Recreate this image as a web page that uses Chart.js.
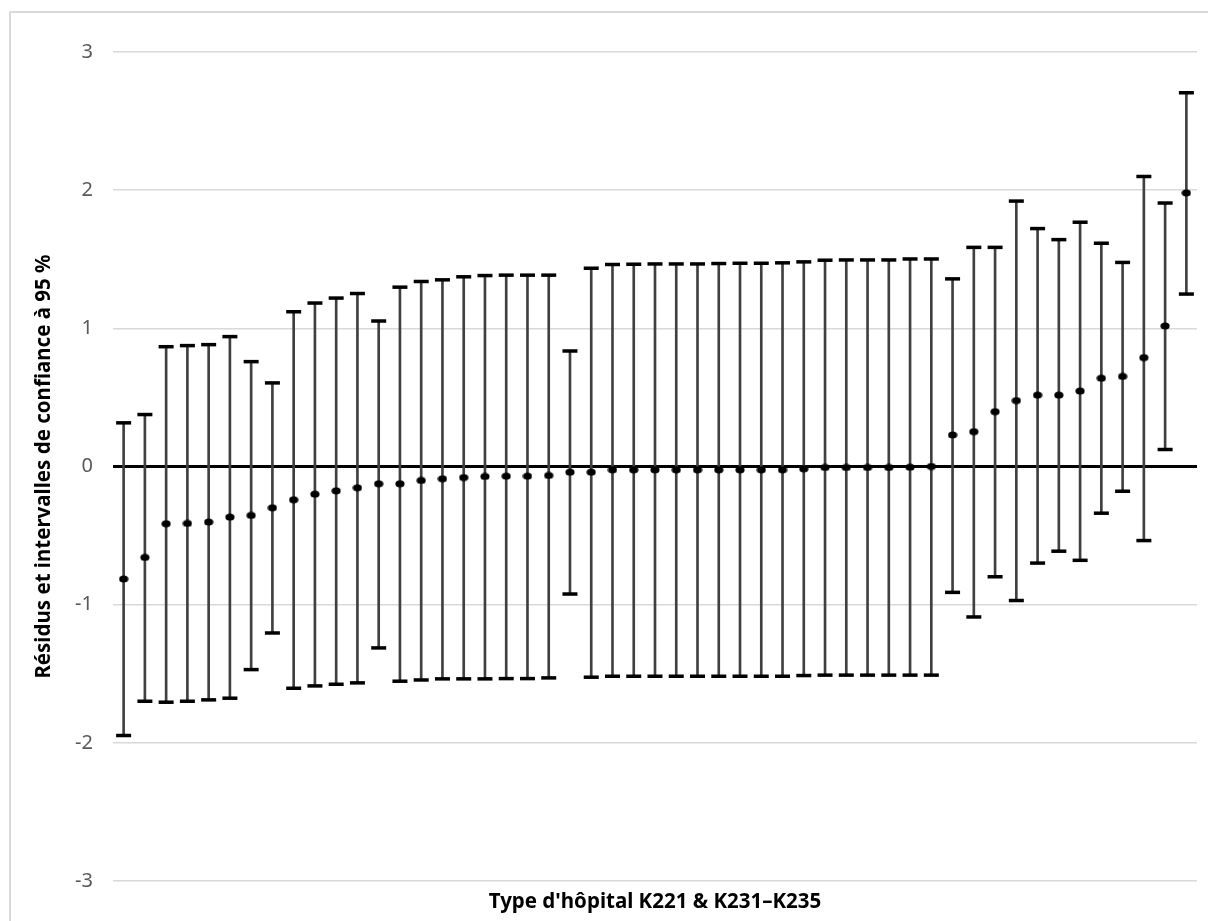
<!DOCTYPE html>
<html>
<head>
<meta charset="utf-8">
<script src="https://cdn.jsdelivr.net/npm/chart.js@4.4.1/dist/chart.umd.min.js"></script>
<style>
  html, body { margin: 0; padding: 0; background: #fff; overflow: hidden; }
  #frame { position: absolute; left: 9px; top: 11px; width: 1300px; height: 1000px;
           border-left: 2px solid #d9d9d9; border-top: 2px solid #d9d9d9; }
  #wrap { position: absolute; left: 0; top: 0; width: 1208px; height: 921px; }
</style>
</head>
<body>
<div id="frame"></div>
<div id="wrap"><canvas id="c" width="1208" height="921"></canvas></div>
<script>
// ---- data ----
const categories = Array.from({length: 51}, (_, i) => 'H' + (i + 1));
const residuals = [
  -0.814, -0.658, -0.414, -0.412, -0.402, -0.366, -0.354, -0.299, -0.241, -0.200,
  -0.176, -0.154, -0.125, -0.125, -0.101, -0.089, -0.080, -0.072, -0.070, -0.070,
  -0.065, -0.041, -0.041, -0.024, -0.024, -0.024, -0.024, -0.024, -0.024, -0.024,
  -0.024, -0.024, -0.017, -0.007, -0.007, -0.007, -0.007, -0.005, 0.000,
  0.228, 0.252, 0.397, 0.477, 0.517, 0.517, 0.546, 0.639, 0.652, 0.788, 1.017, 1.980
];
const upperCI = [
  0.316, 0.376, 0.867, 0.875, 0.882, 0.940, 0.759, 0.605, 1.120, 1.183,
  1.219, 1.252, 1.053, 1.298, 1.339, 1.351, 1.373, 1.382, 1.385, 1.385,
  1.385, 0.836, 1.435, 1.462, 1.464, 1.466, 1.466, 1.466, 1.469, 1.471,
  1.471, 1.474, 1.481, 1.493, 1.495, 1.495, 1.495, 1.502, 1.502,
  1.358, 1.586, 1.586, 1.921, 1.722, 1.642, 1.768, 1.616, 1.477, 2.099, 1.907, 2.705
];
const lowerCI = [
  -1.947, -1.699, -1.706, -1.699, -1.689, -1.677, -1.470, -1.205, -1.605, -1.588,
  -1.576, -1.566, -1.313, -1.554, -1.545, -1.537, -1.537, -1.537, -1.535, -1.535,
  -1.530, -0.923, -1.525, -1.518, -1.518, -1.518, -1.518, -1.518, -1.518, -1.518,
  -1.518, -1.518, -1.513, -1.510, -1.510, -1.510, -1.510, -1.510, -1.510,
  -0.911, -1.089, -0.798, -0.970, -0.699, -0.613, -0.679, -0.338, -0.179, -0.536, 0.123, 1.248
];
const yTicks = [-3, -2, -1, 0, 1, 2, 3];
const yTitle = 'Résidus et intervalles de confiance à 95 %';
const xTitle = "Type d'hôpital K221 & K231–K235";

// ellipse marker
const dot = document.createElement('canvas');
dot.width = 10; dot.height = 8;
(function () {
  const g = dot.getContext('2d');
  g.fillStyle = '#000';
  g.beginPath();
  g.ellipse(5, 4, 4.6, 3.5, 0, 0, Math.PI * 2);
  g.fill();
})();

const FONT = "'Noto Sans', 'Open Sans', sans-serif";

new Chart(document.getElementById('c'), {
  type: 'bar',
  data: {
    labels: categories,
    datasets: [
      {
        type: 'line', label: 'Résidu', data: residuals, showLine: false,
        pointStyle: dot, pointRadius: 5, pointHoverRadius: 5, order: 0
      },
      {
        type: 'line', label: 'Haut', data: upperCI, showLine: false,
        pointStyle: 'line', pointRadius: 7.5, pointHoverRadius: 7.5,
        pointBorderWidth: 3.5, pointBorderColor: '#000', borderColor: '#000', order: 1
      },
      {
        type: 'line', label: 'Bas', data: lowerCI, showLine: false,
        pointStyle: 'line', pointRadius: 7.5, pointHoverRadius: 7.5,
        pointBorderWidth: 3.5, pointBorderColor: '#000', borderColor: '#000', order: 2
      },
      {
        type: 'bar', label: 'IC', data: lowerCI.map((l, i) => [l, upperCI[i]]),
        backgroundColor: '#404040', borderWidth: 0, barThickness: 2, order: 3
      }
    ]
  },
  options: {
    responsive: false,
    animation: false,
    events: [],
    layout: { padding: { left: 14, right: 10, top: 52, bottom: 4 } },
    plugins: { legend: { display: false }, tooltip: { enabled: false } },
    scales: {
      x: {
        offset: true,
        grid: { display: false },
        border: { display: false },
        ticks: { display: false },
        title: {
          display: true, text: xTitle, color: '#000',
          font: { family: FONT, size: 20.5, weight: 'bold' },
          padding: { top: 0, bottom: 3 }
        },
        afterFit: s => { s.height = 36; }
      },
      y: {
        min: -3, max: 3,
        afterBuildTicks: s => { s.ticks = yTicks.map(v => ({ value: v })); },
        grid: {
          drawTicks: false,
          color: c => c.tick && c.tick.value === 0 ? '#000' : '#d9d9d9',
          lineWidth: c => c.tick && c.tick.value === 0 ? 3 : 1.5
        },
        border: { display: false },
        ticks: {
          color: '#595959', padding: 20,
          font: { family: FONT, size: 20 }
        },
        title: {
          display: true, text: yTitle, color: '#000',
          font: { family: FONT, size: 20.5, weight: 'bold' },
          padding: { top: 18, bottom: 0 }
        },
        afterFit: s => { s.width = 113 - 14; }
      }
    }
  }
});
</script>
</body>
</html>
